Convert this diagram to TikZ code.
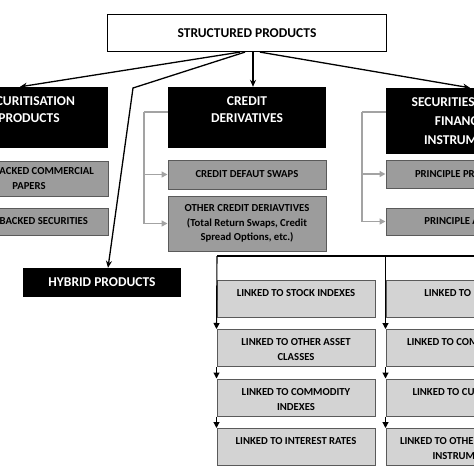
\documentclass[tikz,border=0pt]{standalone}
\usepackage{fontspec}
\setmainfont{Carlito}
\usetikzlibrary{arrows.meta, positioning}
\definecolor{boxgray}{HTML}{9C9C9C}
\definecolor{boxline}{HTML}{5A5A5A}
\definecolor{linkgray}{HTML}{D3D3D3}
\definecolor{busgray}{HTML}{A3A3A3}

\begin{document}
\begin{tikzpicture}[x=1pt, y=-1pt,
  >={Stealth[length=7pt, width=6pt]},
  topbox/.style={draw=black, line width=1.2pt, fill=white, minimum width=279pt,
    minimum height=37pt, font=\fontsize{13.5}{16}\selectfont\bfseries},
  catbox/.style={fill=black, minimum width=158pt, minimum height=#1, inner sep=0pt,
    align=center, text=white, font=\fontsize{13.5}{19}\selectfont\bfseries},
  catbox/.default=61pt,
  cattext/.style={anchor=north, align=center, text=white, inner ysep=10pt,
    font=\fontsize{13.5}{16.5}\selectfont\bfseries},
  subbox/.style={draw=boxline, line width=1pt, fill=boxgray, minimum width=158pt,
    minimum height=#1, inner sep=0pt, align=center,
    font=\fontsize{10.7}{14.5}\selectfont\bfseries},
  linkbox/.style={draw=boxline, line width=1pt, fill=linkgray, minimum width=158pt,
    minimum height=37pt, inner sep=0pt},
  linktext/.style={anchor=north, align=center, inner ysep=9.5pt,
    font=\fontsize{10.7}{15}\selectfont\bfseries},
  link/.style={line width=1.1pt, -{Triangle[length=6pt, width=6pt]}},
  bus/.style={draw=busgray, line width=1.6pt},
  busarrow/.style={bus, -{Triangle[length=6pt, width=6pt]}},
]

\useasboundingbox (0,0) rectangle (474,474);
\clip (0,0) rectangle (474,474);

% Root
\node[topbox] (top) at (247,33) {STRUCTURED PRODUCTS};

% Categories
\node[catbox, label={[cattext]north:{SECURITISATION\\PRODUCTS}}] (sec) at (29,117.5) {};
\node[catbox, label={[cattext]north:{CREDIT\\DERIVATIVES}}] (cred) at (247,117.5) {};
\node[catbox=66pt] (secl) at (465,121) {SECURITIES LINKED\\FINANCIAL\\INSTRUMENTS};
\node[catbox=29pt] (hyb) at (102,282.5) {HYBRID PRODUCTS};

% Sub-categories
\node[subbox=35pt] (abcp) at (29,178.5) {ASSET BACKED COMMERCIAL\\PAPERS};
\node[subbox=27pt] (abs) at (29,221.5) {ASSET BACKED SECURITIES};
\node[subbox=29pt] (cds) at (247,174.5) {CREDIT DEFAUT SWAPS};
\node[subbox=55pt] (ocd) at (247,223.5)
  {OTHER CREDIT DERIAVTIVES\\(Total Return Swaps, Credit\\Spread Options, etc.)};
\node[subbox=28pt] (pp) at (465,174) {PRINCIPLE PROTECTED};
\node[subbox=27pt] (par) at (465,221.5) {PRINCIPLE AT RISK};

% Linked securities -- left column
\node[linkbox, label={[linktext]north:LINKED TO STOCK INDEXES}] (l1) at (296,298.5) {};
\node[linkbox, below=11.5pt of l1, label={[linktext]north:{LINKED TO OTHER ASSET\\CLASSES}}] (l2) {};
\node[linkbox, below=11.5pt of l2, label={[linktext]north:{LINKED TO COMMODITY\\INDEXES}}] (l3) {};
\node[linkbox, below=11.5pt of l3, label={[linktext]north:LINKED TO INTEREST RATES}] (l4) {};

% Linked securities -- right column
\node[linkbox, label={[linktext]north:LINKED TO BONDS}] (r1) at (465,298.5) {};
\node[linkbox, below=11.5pt of r1, label={[linktext]north:LINKED TO COMMODITIES}] (r2) {};
\node[linkbox, below=11.5pt of r2, label={[linktext]north:LINKED TO CURRENCIES}] (r3) {};
\node[linkbox, below=11.5pt of r3, label={[linktext]north:{LINKED TO OTHER FINANCIAL\\INSTRUMENTS}}] (r4) {};

% Root to categories
\coordinate (hybbend) at (133,88);
\draw[line width=1.3pt, ->] ([xshift=-7pt]top.south) -- ([xshift=-9pt]sec.north);
\draw[line width=1.3pt, ->] ([xshift=-2pt]top.south) -- (hybbend) -- ([xshift=6pt]hyb.north);
\draw[line width=1.3pt, ->] ([xshift=6pt]top.south) -- ([xshift=6pt]cred.north);
\draw[line width=1.3pt, ->] ([xshift=13pt]top.south) -- ([xshift=5pt]secl.north);

% Grey brackets
\coordinate (credbus) at (144,112);
\draw[bus] (cred.west |- credbus) -- (credbus);
\draw[busarrow] (credbus) |- (ocd.west);
\draw[busarrow] (credbus |- cds.west) -- (cds.west);
\coordinate (seclbus) at (362,112);
\draw[bus] (secl.west |- seclbus) -- (seclbus);
\draw[busarrow] (seclbus) |- (par.west);
\draw[busarrow] (seclbus |- pp.west) -- (pp.west);

% Linked frame
\coordinate (lnktop) at (217,256);
\draw[line width=1.1pt] (lnktop) -- (490,256);
\draw[link] (lnktop) -- (l2.north west);
\draw[link] (l2.south west) -- (l3.north west);
\draw[link] (l3.south west) -- (l4.north west);
\draw[link] (lnktop -| r1.west) -- (r2.north west);
\draw[link] (r2.south west) -- (r3.north west);
\draw[link] (r3.south west) -- (r4.north west);

\end{tikzpicture}
\end{document}
